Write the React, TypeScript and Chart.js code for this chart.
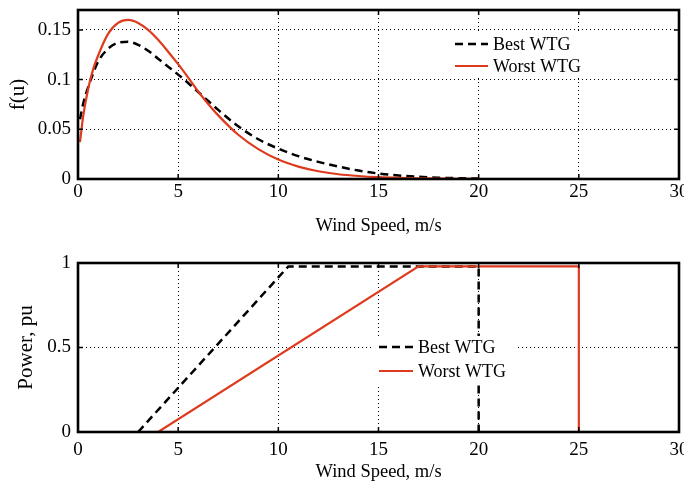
import React, { useEffect, useRef } from 'react';
import { Chart, registerables } from 'chart.js';

Chart.register(...registerables);

// ---------- data ----------
const pdfSpeeds = [0.1, 0.25, 0.5, 0.75, 1, 1.5, 2, 2.5, 3, 3.5, 4, 4.5, 5, 5.5, 6, 6.5, 7, 8, 9, 10, 11, 12, 13, 14, 15, 16, 17, 18, 19, 20];
const pdfBest = [0.060, 0.075, 0.092, 0.106, 0.118, 0.131, 0.137, 0.138, 0.135, 0.129, 0.121, 0.113, 0.105, 0.0965, 0.0875, 0.0785, 0.0695, 0.053, 0.040, 0.0305, 0.023, 0.0172, 0.0125, 0.0085, 0.0055, 0.0035, 0.0022, 0.0013, 0.0008, 0.0005];
const pdfWorst = [0.037, 0.062, 0.090, 0.110, 0.124, 0.146, 0.157, 0.160, 0.157, 0.150, 0.140, 0.128, 0.1155, 0.102, 0.088, 0.0755, 0.064, 0.0445, 0.030, 0.0195, 0.0125, 0.0078, 0.0048, 0.003, 0.0018, 0.0011, 0.0007, 0.0004, 0.0002, 0.0001];

const powerBestSpeeds = [3, 10.5, 20, 20];
const powerBestValues = [0, 0.98, 0.98, 0];
const powerWorstSpeeds = [4, 17, 25, 25];
const powerWorstValues = [0, 0.98, 0.98, 0];

const seriesLabels = ['Best WTG', 'Worst WTG'];
const xTicks = [0, 5, 10, 15, 20, 25, 30];
const pdfYTicks = [0, 0.05, 0.1, 0.15];
const powerYTicks = [0, 0.5, 1];

// ---------- styles ----------
const FONT = "'Liberation Serif', 'Times New Roman', serif";
const RED = '#DE3B1E';
const BLACK = '#000000';
const DASH = [8, 5];

const boxPlugin = {
  id: 'wtgBox',
  afterDatasetsDraw(chart: any) {
    const { ctx, chartArea: a, scales } = chart;
    ctx.save();
    ctx.strokeStyle = '#000';
    ctx.lineWidth = 1.5;
    const tl = 5;
    scales.x.ticks.forEach((t: any) => {
      const px = scales.x.getPixelForValue(t.value);
      ctx.beginPath();
      ctx.moveTo(px, a.bottom);
      ctx.lineTo(px, a.bottom - tl);
      ctx.moveTo(px, a.top);
      ctx.lineTo(px, a.top + tl);
      ctx.stroke();
    });
    scales.y.ticks.forEach((t: any) => {
      const py = scales.y.getPixelForValue(t.value);
      ctx.beginPath();
      ctx.moveTo(a.left, py);
      ctx.lineTo(a.left + tl, py);
      ctx.moveTo(a.right, py);
      ctx.lineTo(a.right - tl, py);
      ctx.stroke();
    });
    ctx.lineWidth = 2.6;
    ctx.strokeRect(a.left, a.top, a.right - a.left, a.bottom - a.top);
    ctx.restore();
  },
};

const legendPlugin = {
  id: 'wtgLegend',
  afterDraw(chart: any, _args: any, opts: any) {
    if (!opts || !opts.box) return;
    const { ctx } = chart;
    const b = opts.box;
    ctx.save();
    ctx.fillStyle = '#fff';
    ctx.fillRect(b.x, b.y, b.w, b.h);
    const items = [
      { color: BLACK, dash: DASH, width: 2.5 },
      { color: RED, dash: [], width: 2.2 },
    ];
    items.forEach((it, i) => {
      const y = opts.rows[i];
      ctx.beginPath();
      ctx.strokeStyle = it.color;
      ctx.lineWidth = it.width;
      ctx.setLineDash(it.dash);
      ctx.moveTo(opts.lineX0, y);
      ctx.lineTo(opts.lineX1, y);
      ctx.stroke();
      ctx.setLineDash([]);
      ctx.fillStyle = '#000';
      ctx.font = `18px ${FONT}`;
      ctx.textBaseline = 'middle';
      ctx.textAlign = 'left';
      ctx.fillText(seriesLabels[i], opts.textX, y + 1);
    });
    ctx.restore();
  },
};

function baseScales(
  yTicks: number[],
  yMax: number,
  xAxisHeight: number,
  xTickPad: number,
  xTitlePad: number,
  yTitle: string,
  yTitlePad: number
) {
  return {
    x: {
      type: 'linear',
      min: 0,
      max: 30,
      afterBuildTicks: (s: any) => {
        s.ticks = xTicks.map((v) => ({ value: v }));
      },
      afterFit: (s: any) => {
        s.height = xAxisHeight;
        s.paddingLeft = 0;
        s.paddingRight = 0;
      },
      grid: { color: '#000', lineWidth: 1, drawTicks: false },
      border: { display: false, dash: [1, 3] },
      ticks: {
        color: '#000',
        font: { family: FONT, size: 19 },
        padding: xTickPad,
        maxRotation: 0,
        autoSkip: false,
        callback: (v: any) => String(v),
      },
      title: {
        display: true,
        text: 'Wind Speed, m/s',
        color: '#000',
        font: { family: FONT, size: 18.5 },
        padding: { top: 0, bottom: xTitlePad },
      },
    },
    y: {
      type: 'linear',
      min: 0,
      max: yMax,
      afterBuildTicks: (s: any) => {
        s.ticks = yTicks.map((v) => ({ value: v }));
      },
      afterFit: (s: any) => {
        s.width = 78;
        s.paddingTop = 0;
        s.paddingBottom = 0;
      },
      grid: { color: '#000', lineWidth: 1, drawTicks: false },
      border: { display: false, dash: [1, 3] },
      ticks: {
        color: '#000',
        font: { family: FONT, size: 19 },
        padding: 7,
        autoSkip: false,
        callback: (v: any) => String(v),
      },
      title: {
        display: true,
        text: yTitle,
        color: '#000',
        font: { family: FONT, size: 21 },
        padding: { top: yTitlePad, bottom: 0 },
      },
    },
  };
}

function toPoints(xs: number[], ys: number[]) {
  return xs.map((x, i) => ({ x, y: ys[i] }));
}

export default function App() {
  const topRef = useRef<HTMLCanvasElement | null>(null);
  const botRef = useRef<HTMLCanvasElement | null>(null);

  useEffect(() => {
    const top = new Chart(topRef.current as HTMLCanvasElement, {
      type: 'line',
      data: {
        datasets: [
          {
            label: seriesLabels[0],
            data: toPoints(pdfSpeeds, pdfBest),
            borderColor: BLACK,
            borderWidth: 2.5,
            borderDash: DASH,
            pointRadius: 0,
            cubicInterpolationMode: 'monotone',
            fill: false,
            order: 2,
          },
          {
            label: seriesLabels[1],
            data: toPoints(pdfSpeeds, pdfWorst),
            borderColor: RED,
            borderWidth: 2.2,
            pointRadius: 0,
            cubicInterpolationMode: 'monotone',
            fill: false,
            order: 1,
          },
        ],
      },
      options: {
        responsive: false,
        animation: false,
        layout: { padding: { top: 10, right: 5, left: 0, bottom: 0 } },
        plugins: {
          legend: { display: false },
          tooltip: { enabled: false },
          wtgLegend: {
            box: { x: 443, y: 32, w: 160, h: 46 },
            rows: [44, 66],
            lineX0: 455,
            lineX1: 488,
            textX: 493,
          },
        } as any,
        scales: baseScales(pdfYTicks, 0.17, 66, 2, 8, 'f(u)', 6) as any,
      },
      plugins: [boxPlugin, legendPlugin],
    } as any);

    const bot = new Chart(botRef.current as HTMLCanvasElement, {
      type: 'line',
      data: {
        datasets: [
          {
            label: seriesLabels[0],
            data: toPoints(powerBestSpeeds, powerBestValues),
            borderColor: BLACK,
            borderWidth: 2.5,
            borderDash: DASH,
            pointRadius: 0,
            tension: 0,
            fill: false,
            order: 2,
          },
          {
            label: seriesLabels[1],
            data: toPoints(powerWorstSpeeds, powerWorstValues),
            borderColor: RED,
            borderWidth: 2.2,
            pointRadius: 0,
            tension: 0,
            fill: false,
            order: 1,
          },
        ],
      },
      options: {
        responsive: false,
        animation: false,
        layout: { padding: { top: 18, right: 5, left: 0, bottom: 0 } },
        plugins: {
          legend: { display: false },
          tooltip: { enabled: false },
          wtgLegend: {
            box: { x: 373, y: 91, w: 143, h: 48 },
            rows: [102, 126],
            lineX0: 379,
            lineX1: 413,
            textX: 418,
          },
        } as any,
        scales: baseScales(powerYTicks, 1, 57, 7, 6, 'Power, pu', 14) as any,
      },
      plugins: [boxPlugin, legendPlugin],
    } as any);

    return () => {
      top.destroy();
      bot.destroy();
    };
  }, []);

  return (
    <div style={{ position: 'absolute', left: 0, top: 0, width: 684, height: 489, background: '#fff' }}>
      <canvas
        ref={topRef}
        width={684}
        height={245}
        style={{ position: 'absolute', left: 0, top: 0, width: 684, height: 245 }}
      />
      <canvas
        ref={botRef}
        width={684}
        height={244}
        style={{ position: 'absolute', left: 0, top: 245, width: 684, height: 244 }}
      />
    </div>
  );
}
